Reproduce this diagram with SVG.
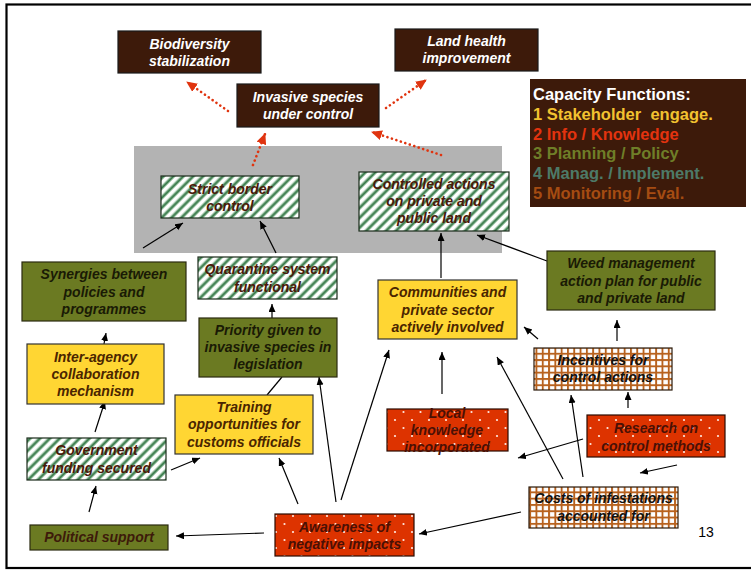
<svg xmlns="http://www.w3.org/2000/svg" width="751" height="570" viewBox="0 0 751 570">
  <defs>
    <style>
      text { font-family: "Liberation Sans", Arial, sans-serif; font-size: 14px; font-weight: bold; font-style: italic; text-anchor: middle; }
      .box { stroke: #1a1a1a; stroke-width: 1.2; }
      .outcome { fill: #3d1a0a; }
      .outcome-t { fill: #ffffff; }
      .olive { fill: #6b7a22; stroke: #2a2a10; stroke-width: 1.2; }
      .olive-t { fill: #1a1a05; }
      .yellow { fill: #ffd633; stroke: #333; stroke-width: 1.2; }
      .yellow-t { fill: #4a2500; }
      .stripe { fill: url(#stripes); stroke: #1a2a1a; stroke-width: 1.2; }
      .stripe-t { fill: #4a1a0a; }
      .dots { fill: url(#reddots); stroke: #2a0a00; stroke-width: 1.2; }
      .dots-t { fill: #4a1005; }
      .check { fill: url(#checks); stroke: #2a1a0a; stroke-width: 1.2; }
      .check-t { fill: #111; }
      .link { stroke: #000; stroke-width: 1.2; fill: none; marker-end: url(#arr); }
      .plain { stroke: #000; stroke-width: 1.2; fill: none; }
      .dotlink { stroke: #e0340f; stroke-width: 2.6; stroke-linecap: round; stroke-dasharray: 0.1 4.6; fill: none; marker-end: url(#redarr); }
      .legend { font-style: normal; font-size: 16.5px; text-anchor: start; }
    </style>
    <linearGradient id="stripeGrad" x1="0" y1="0" x2="1" y2="0">
      <stop offset="0" stop-color="#ffffff"/>
      <stop offset="0.2" stop-color="#8fbc9a"/>
      <stop offset="0.42" stop-color="#3a7a4b"/>
      <stop offset="0.58" stop-color="#3a7a4b"/>
      <stop offset="0.8" stop-color="#8fbc9a"/>
      <stop offset="1" stop-color="#ffffff"/>
    </linearGradient>
    <pattern id="stripes" width="7" height="10" patternUnits="userSpaceOnUse" patternTransform="rotate(45)">
      <rect width="7" height="10" fill="#ffffff"/>
      <rect x="0" width="4.4" height="10" fill="url(#stripeGrad)"/>
    </pattern>
    <pattern id="reddots" width="17" height="16" patternUnits="userSpaceOnUse">
      <rect width="17" height="16" fill="#dd3300"/>
      <circle cx="4" cy="4" r="1.1" fill="#ffe8e0"/>
      <circle cx="12.5" cy="12" r="1.1" fill="#ffe8e0"/>
    </pattern>
    <pattern id="checks" width="6.3" height="6.3" patternUnits="userSpaceOnUse">
      <rect width="6.3" height="6.3" fill="#ffffff"/>
      <rect x="0" y="0" width="1.9" height="6.3" fill="#b8621e"/>
      <rect x="0" y="0" width="6.3" height="1.9" fill="#b8621e"/>
    </pattern>
    <marker id="arr" markerUnits="userSpaceOnUse" markerWidth="9" markerHeight="8" refX="8" refY="3.5" orient="auto">
      <path d="M0,0 L8,3.5 L0,7 z" fill="#000"/>
    </marker>
    <marker id="redarr" markerUnits="userSpaceOnUse" markerWidth="12" markerHeight="11" refX="10" refY="5" orient="auto">
      <path d="M0,0 L11,5 L0,10 z" fill="#e0340f"/>
    </marker>
  </defs>

  <rect x="0" y="0" width="751" height="570" fill="#ffffff"/>
  <!-- slide frame -->
  <rect x="6.5" y="4.5" width="760" height="563.5" fill="none" stroke="#000" stroke-width="2.2"/>

  <!-- shaded grouping behind the two control outcomes -->
  <rect id="control-area" x="134" y="146" width="368" height="107" fill="#b3b3b3"/>

  <!-- connectors -->
  <g id="connectors">
    <path class="dotlink" d="M228,111 L187,82"/>
    <path class="dotlink" d="M386,108 L426,80"/>
    <path class="dotlink" d="M253,165 L265,134"/>
    <path class="dotlink" d="M441,155 L372,132"/>

    <path class="link" d="M143,248 L183,223"/>
    <path class="link" d="M276,253 L260,221"/>
    <path class="link" d="M441,278 L441,233"/>
    <path class="link" d="M547,261 L477,235"/>
    <path class="link" d="M272,318 L272,304"/>
    <path class="link" d="M104,344 L106,333"/>
    <path class="plain" d="M267,395 L282,377"/>
    <path class="link" d="M336,502 L319,377"/>
    <path class="link" d="M341,500 L389,350"/>
    <path class="link" d="M298,504 L279,458"/>
    <path class="link" d="M95,432 L105,401"/>
    <path class="link" d="M171,470 L200,458"/>
    <path class="link" d="M89,512 L96,486"/>
    <path class="link" d="M264,533 L176,536"/>
    <path class="link" d="M521,512 L419,534"/>
    <path class="link" d="M442,394 L442,352"/>
    <path class="link" d="M563,479 L497,357"/>
    <path class="link" d="M538,339 L524,327"/>
    <path class="link" d="M617,341 L617,320"/>
    <path class="link" d="M628,408 L628,392"/>
    <path class="link" d="M583,477 L571,395"/>
    <path class="link" d="M583,439 L518,458"/>
    <path class="link" d="M677,465 L640,473"/>
  </g>

  <!-- outcome nodes -->
  <g id="biodiversity">
    <rect class="box outcome" x="118" y="31" width="143" height="42"/>
    <text class="outcome-t" x="189.5" y="49">Biodiversity</text>
    <text class="outcome-t" x="189.5" y="66">stabilization</text>
  </g>
  <g id="land-health">
    <rect class="box outcome" x="395" y="29" width="143" height="42"/>
    <text class="outcome-t" x="466.5" y="46">Land health</text>
    <text class="outcome-t" x="466.5" y="63">improvement</text>
  </g>
  <g id="invasive-control">
    <rect class="box outcome" x="237" y="84" width="142" height="43"/>
    <text class="outcome-t" x="308" y="102">Invasive species</text>
    <text class="outcome-t" x="308" y="119">under control</text>
  </g>

  <!-- legend -->
  <g id="capacity-functions">
    <rect x="530" y="79" width="216" height="128" fill="#3d1a0a"/>
    <text class="legend" x="533" y="100" fill="#ffffff">Capacity Functions:</text>
    <text class="legend" x="533" y="120" fill="#f2c230" xml:space="preserve">1 Stakeholder  engage.</text>
    <text class="legend" x="533" y="140" fill="#e3330f">2 Info / Knowledge</text>
    <text class="legend" x="533" y="159" fill="#6f7e28">3 Planning / Policy</text>
    <text class="legend" x="533" y="179" fill="#4d7a68">4 Manag. / Implement.</text>
    <text class="legend" x="533" y="199" fill="#a54c12">5 Monitoring / Eval.</text>
  </g>

  <g id="strict-border">
    <rect class="stripe" x="161" y="176" width="138" height="42"/>
    <text class="stripe-t" x="230" y="194">Strict border</text>
    <text class="stripe-t" x="230" y="211">control</text>
  </g>
  <g id="controlled-actions">
    <rect class="stripe" x="359" y="172" width="150" height="59"/>
    <text class="stripe-t" x="434" y="189">Controlled actions</text>
    <text class="stripe-t" x="434" y="206">on private and</text>
    <text class="stripe-t" x="434" y="223">public land</text>
  </g>

  <g id="synergies">
    <rect class="olive" x="22" y="262" width="164" height="59"/>
    <text class="olive-t" x="104" y="279">Synergies between</text>
    <text class="olive-t" x="104" y="297">policies and</text>
    <text class="olive-t" x="104" y="314">programmes</text>
  </g>
  <g id="quarantine">
    <rect class="stripe" x="198" y="257" width="139" height="42"/>
    <text class="stripe-t" x="267.5" y="274">Quarantine system</text>
    <text class="stripe-t" x="267.5" y="292">functional</text>
  </g>
  <g id="priority-legislation">
    <rect class="olive" x="199" y="318" width="138" height="59"/>
    <text class="olive-t" x="268" y="335">Priority given to</text>
    <text class="olive-t" x="268" y="352">invasive species in</text>
    <text class="olive-t" x="268" y="369">legislation</text>
  </g>
  <g id="communities">
    <rect class="yellow" x="378" y="280" width="139" height="59"/>
    <text class="yellow-t" x="447.5" y="297">Communities and</text>
    <text class="yellow-t" x="447.5" y="315">private sector</text>
    <text class="yellow-t" x="447.5" y="332">actively involved</text>
  </g>
  <g id="weed-plan">
    <rect class="olive" x="547" y="251" width="168" height="59"/>
    <text class="olive-t" x="631" y="268">Weed management</text>
    <text class="olive-t" x="631" y="286">action plan for public</text>
    <text class="olive-t" x="631" y="303">and private land</text>
  </g>
  <g id="inter-agency">
    <rect class="yellow" x="27" y="344" width="137" height="60"/>
    <text class="yellow-t" x="95.5" y="362">Inter-agency</text>
    <text class="yellow-t" x="95.5" y="379">collaboration</text>
    <text class="yellow-t" x="95.5" y="396">mechanism</text>
  </g>
  <g id="incentives">
    <rect class="check" x="534" y="348" width="138" height="42"/>
    <text class="check-t" x="603" y="365">Incentives for</text>
    <text class="check-t" x="603" y="382">control actions</text>
  </g>
  <g id="training">
    <rect class="yellow" x="175" y="395" width="138" height="59"/>
    <text class="yellow-t" x="244" y="412">Training</text>
    <text class="yellow-t" x="244" y="429">opportunities for</text>
    <text class="yellow-t" x="244" y="447">customs officials</text>
  </g>
  <g id="local-knowledge">
    <rect class="dots" x="387" y="409" width="121" height="42"/>
    <text class="dots-t" x="447" y="418">Local</text>
    <text class="dots-t" x="447" y="435">knowledge</text>
    <text class="dots-t" x="447" y="452">incorporated</text>
  </g>
  <g id="research">
    <rect class="dots" x="587" y="415" width="138" height="42"/>
    <text class="dots-t" x="656" y="433">Research on</text>
    <text class="dots-t" x="656" y="451">control methods</text>
  </g>
  <g id="government-funding">
    <rect class="stripe" x="27" y="438" width="139" height="42"/>
    <text class="stripe-t" x="96.5" y="455">Government</text>
    <text class="stripe-t" x="96.5" y="473">funding secured</text>
  </g>
  <g id="costs">
    <rect class="check" x="529" y="487" width="149" height="41"/>
    <text class="check-t" x="603.5" y="503">Costs of infestations</text>
    <text class="check-t" x="603.5" y="521">accounted for</text>
  </g>
  <g id="political-support">
    <rect class="olive" x="30" y="525" width="138" height="25"/>
    <text x="99" y="542" fill="#3d1a0a">Political support</text>
  </g>
  <g id="awareness">
    <rect class="dots" x="275" y="514" width="139" height="42"/>
    <text class="dots-t" x="344.5" y="532">Awareness of</text>
    <text class="dots-t" x="344.5" y="549">negative impacts</text>
  </g>

  <text x="706" y="537" style="font-style: normal; font-weight: normal; font-size: 14px;" fill="#000">13</text>
</svg>
